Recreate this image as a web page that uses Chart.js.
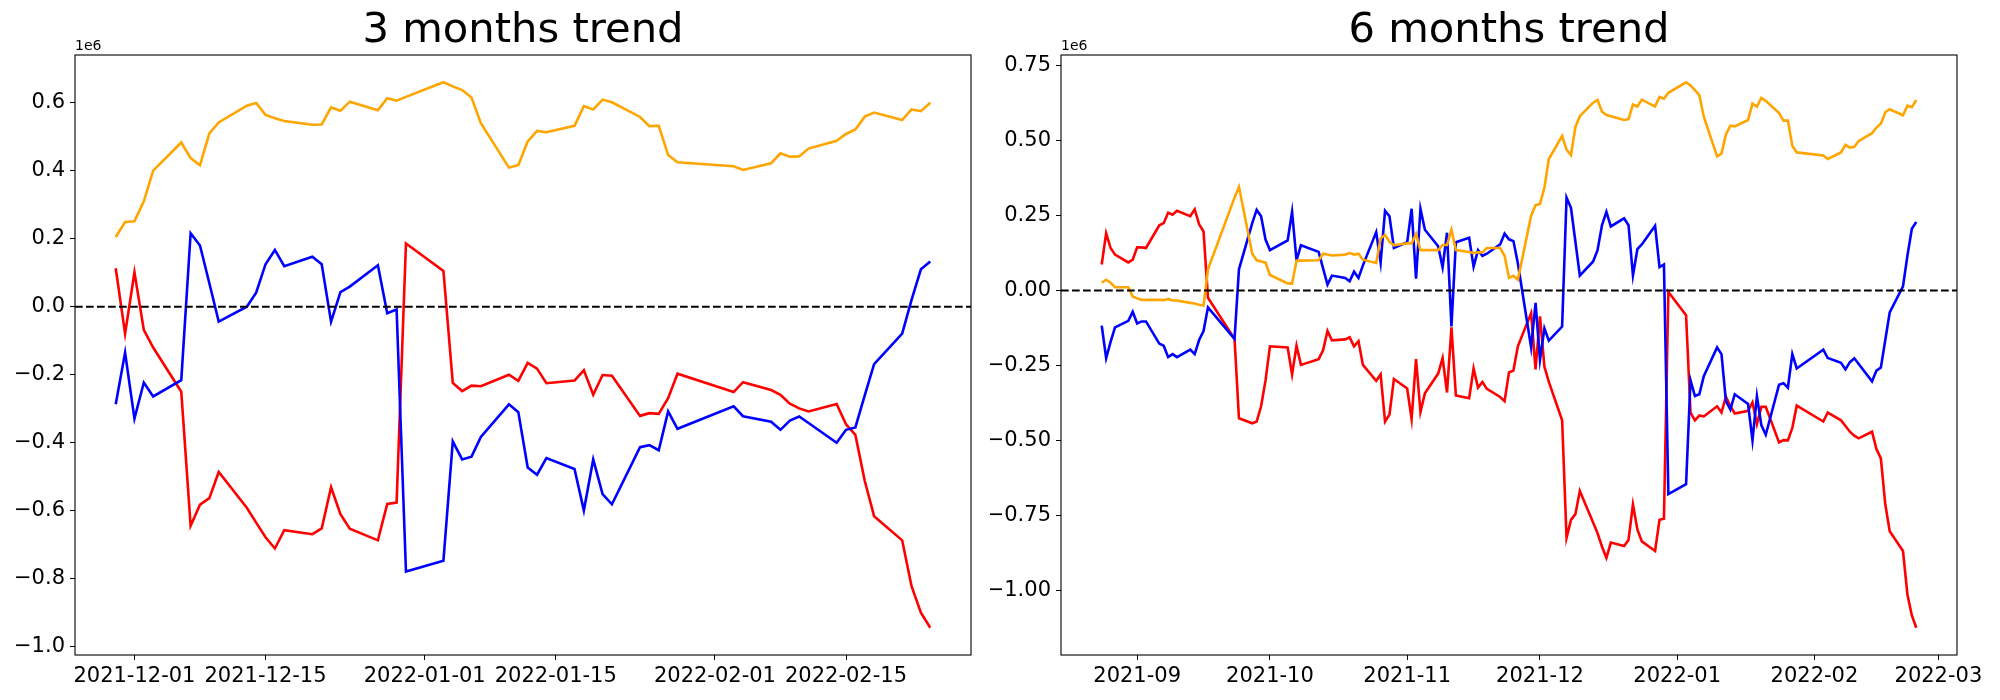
<!DOCTYPE html>
<html>
<head>
<meta charset="utf-8">
<script src="https://cdn.jsdelivr.net/npm/chart.js@4.4.1/dist/chart.umd.min.js"></script>
<style>
  html, body { margin: 0; padding: 0; background: #fff; overflow: hidden; }
  #wrap { position: relative; width: 2000px; height: 700px; }
  #wrap canvas { position: absolute; top: 0; }
</style>
</head>
<body>
<div id="wrap">
  <canvas id="trend3m" width="990" height="700" style="left:0"></canvas>
  <canvas id="trend6m" width="1010" height="700" style="left:990px"></canvas>
</div>
<script>
// values are in units of 1e6

// --- 3 months ---
const dates3m = [
  '2021-11-29','2021-11-30','2021-12-01','2021-12-02','2021-12-03',
  '2021-12-06','2021-12-07','2021-12-08','2021-12-09','2021-12-10',
  '2021-12-13','2021-12-14','2021-12-15','2021-12-16','2021-12-17',
  '2021-12-20','2021-12-21','2021-12-22','2021-12-23','2021-12-24',
  '2021-12-27','2021-12-28','2021-12-29','2021-12-30',
  '2022-01-03','2022-01-04','2022-01-05','2022-01-06','2022-01-07',
  '2022-01-10','2022-01-11','2022-01-12','2022-01-13','2022-01-14',
  '2022-01-17','2022-01-18','2022-01-19','2022-01-20','2022-01-21',
  '2022-01-24','2022-01-25','2022-01-26','2022-01-27','2022-01-28',
  '2022-02-03','2022-02-04',
  '2022-02-07','2022-02-08','2022-02-09','2022-02-10','2022-02-11',
  '2022-02-14','2022-02-15','2022-02-16','2022-02-17','2022-02-18',
  '2022-02-21','2022-02-22','2022-02-23','2022-02-24'
];
const orange3m = [
  0.205, 0.249, 0.251, 0.31, 0.40,
  0.483, 0.437, 0.416, 0.51, 0.542,
  0.591, 0.599, 0.564, 0.554, 0.546,
  0.535, 0.536, 0.586, 0.576, 0.603,
  0.578, 0.613, 0.606, 0.617,
  0.66, 0.648, 0.637, 0.615, 0.54,
  0.409, 0.416, 0.486, 0.517, 0.513,
  0.532, 0.59, 0.58, 0.609, 0.601,
  0.558, 0.531, 0.532, 0.446, 0.425,
  0.413, 0.402,
  0.422, 0.451, 0.441, 0.442, 0.465,
  0.488, 0.508, 0.521, 0.559, 0.571,
  0.549, 0.58, 0.575, 0.6
];
const blue3m = [
  -0.287, -0.135, -0.329, -0.223, -0.264,
  -0.216, 0.216, 0.18, 0.069, -0.044,
  0.0, 0.041, 0.125, 0.167, 0.119,
  0.147, 0.125, -0.044, 0.043, 0.059,
  0.122, -0.019, -0.008, -0.779,
  -0.747, -0.396, -0.449, -0.441, -0.383,
  -0.287, -0.31, -0.473, -0.494, -0.445,
  -0.477, -0.599, -0.449, -0.551, -0.581,
  -0.413, -0.407, -0.422, -0.308, -0.359,
  -0.293, -0.322,
  -0.338, -0.362, -0.335, -0.323, -0.342,
  -0.4, -0.362, -0.355, -0.261, -0.169,
  -0.079, 0.02, 0.11, 0.133
];
const red3m = [
  0.113, -0.079, 0.101, -0.068, -0.12,
  -0.25, -0.644, -0.582, -0.563, -0.486,
  -0.591, -0.635, -0.678, -0.711, -0.657,
  -0.669, -0.652, -0.531, -0.61, -0.653,
  -0.687, -0.58, -0.576, 0.186,
  0.105, -0.224, -0.248, -0.232, -0.234,
  -0.2, -0.218, -0.165, -0.182, -0.225,
  -0.217, -0.187, -0.259, -0.201, -0.203,
  -0.321, -0.313, -0.315, -0.269, -0.197,
  -0.251, -0.222,
  -0.245, -0.259, -0.285, -0.299, -0.308,
  -0.286, -0.346, -0.377, -0.512, -0.616,
  -0.687, -0.822, -0.9, -0.944
];
const xTicks3m = ['2021-12-01','2021-12-15','2022-01-01','2022-01-15','2022-02-01','2022-02-15'];
const yTicks3m = [-1.0, -0.8, -0.6, -0.4, -0.2, 0.0, 0.2, 0.4, 0.6];

// --- 6 months ---
const dates6m = [
  '2021-08-24','2021-08-25','2021-08-26','2021-08-27','2021-08-30','2021-08-31',
  '2021-09-01','2021-09-02','2021-09-03','2021-09-06','2021-09-07','2021-09-08','2021-09-09','2021-09-10',
  '2021-09-13','2021-09-14','2021-09-15','2021-09-16','2021-09-17','2021-09-23','2021-09-24',
  '2021-09-27','2021-09-28','2021-09-29','2021-09-30','2021-10-01',
  '2021-10-05','2021-10-06','2021-10-07','2021-10-08','2021-10-12','2021-10-13','2021-10-14','2021-10-15',
  '2021-10-18','2021-10-19','2021-10-20','2021-10-21','2021-10-22',
  '2021-10-25','2021-10-26','2021-10-27','2021-10-28','2021-10-29',
  '2021-11-01','2021-11-02','2021-11-03','2021-11-04','2021-11-05',
  '2021-11-08','2021-11-09','2021-11-10','2021-11-11','2021-11-12',
  '2021-11-15','2021-11-16','2021-11-17','2021-11-18','2021-11-19',
  '2021-11-22','2021-11-23','2021-11-24','2021-11-25','2021-11-26',
  '2021-11-29','2021-11-30','2021-12-01','2021-12-02','2021-12-03',
  '2021-12-06','2021-12-07','2021-12-08','2021-12-09','2021-12-10',
  '2021-12-13','2021-12-14','2021-12-15','2021-12-16','2021-12-17',
  '2021-12-20','2021-12-21','2021-12-22','2021-12-23','2021-12-24',
  '2021-12-27','2021-12-28','2021-12-29','2021-12-30',
  '2022-01-03','2022-01-04','2022-01-05','2022-01-06','2022-01-07',
  '2022-01-10','2022-01-11','2022-01-12','2022-01-13','2022-01-14',
  '2022-01-17','2022-01-18','2022-01-19','2022-01-20','2022-01-21',
  '2022-01-24','2022-01-25','2022-01-26','2022-01-27','2022-01-28',
  '2022-02-03','2022-02-04',
  '2022-02-07','2022-02-08','2022-02-09','2022-02-10','2022-02-11',
  '2022-02-14','2022-02-15','2022-02-16','2022-02-17','2022-02-18',
  '2022-02-21','2022-02-22','2022-02-23','2022-02-24'
];
const orange6m = [
  0.026, 0.036, 0.026, 0.011, 0.011, -0.02,
  -0.026, -0.031, -0.031, -0.031, -0.032, -0.028, -0.033, -0.033,
  -0.041, -0.043, -0.047, -0.05, 0.071, 0.31, 0.346,
  0.123, 0.101, 0.097, 0.093, 0.052,
  0.024, 0.023, 0.1, 0.1, 0.101, 0.123, 0.12, 0.117,
  0.12, 0.125, 0.12, 0.123, 0.103,
  0.092, 0.174, 0.186, 0.163, 0.151,
  0.158, 0.157, 0.189, 0.135, 0.135,
  0.135, 0.152, 0.152, 0.203, 0.135,
  0.129, 0.125, 0.128, 0.127, 0.142,
  0.142, 0.116, 0.042, 0.049, 0.036,
  0.25, 0.285, 0.289, 0.343, 0.439,
  0.516, 0.47, 0.452, 0.546, 0.582,
  0.627, 0.636, 0.597, 0.586, 0.582,
  0.569, 0.572, 0.621, 0.614, 0.637,
  0.614, 0.646, 0.64, 0.66,
  0.695, 0.684, 0.669, 0.652, 0.58,
  0.448, 0.457, 0.521, 0.55, 0.548,
  0.569, 0.624, 0.614, 0.643, 0.633,
  0.592, 0.567, 0.567, 0.483, 0.461,
  0.451, 0.439,
  0.461, 0.486, 0.477, 0.48, 0.499,
  0.525, 0.544, 0.557, 0.595, 0.605,
  0.585, 0.617, 0.612, 0.636
];
const blue6m = [
  -0.117, -0.226, -0.171, -0.123, -0.101, -0.071,
  -0.11, -0.103, -0.103, -0.177, -0.184, -0.222, -0.212, -0.222,
  -0.197, -0.212, -0.165, -0.135, -0.056, -0.161, 0.071,
  0.225, 0.269, 0.248, 0.17, 0.135,
  0.167, 0.263, 0.101, 0.151, 0.129, 0.074, 0.02, 0.05,
  0.042, 0.031, 0.063, 0.042, 0.084,
  0.195, 0.093, 0.266, 0.248, 0.142,
  0.161, 0.273, 0.04, 0.273, 0.203,
  0.148, 0.078, 0.193, -0.12, 0.161,
  0.176, 0.08, 0.135, 0.116, 0.123,
  0.154, 0.19, 0.171, 0.165, 0.091,
  -0.19, -0.041, -0.231, -0.126, -0.167,
  -0.12, 0.31, 0.276, 0.163, 0.05,
  0.097, 0.135, 0.218, 0.263, 0.214,
  0.241, 0.218, 0.05, 0.138, 0.154,
  0.216, 0.078, 0.087, -0.679,
  -0.646, -0.299, -0.352, -0.346, -0.286,
  -0.19, -0.212, -0.369, -0.397, -0.346,
  -0.378, -0.5, -0.352, -0.449, -0.481,
  -0.314, -0.309, -0.324, -0.212, -0.26,
  -0.197, -0.225,
  -0.241, -0.263, -0.239, -0.226, -0.245,
  -0.303, -0.267, -0.257, -0.165, -0.073,
  0.014, 0.116, 0.206, 0.229
];
const red6m = [
  0.087, 0.191, 0.142, 0.12, 0.094, 0.103,
  0.144, 0.144, 0.142, 0.218, 0.225, 0.26, 0.253, 0.266,
  0.248, 0.271, 0.221, 0.197, -0.024, -0.161, -0.426,
  -0.443, -0.437, -0.386, -0.3, -0.186,
  -0.19, -0.28, -0.184, -0.248, -0.229, -0.199, -0.135, -0.166,
  -0.163, -0.156, -0.186, -0.169, -0.248,
  -0.301, -0.28, -0.437, -0.414, -0.295,
  -0.327, -0.429, -0.229, -0.405, -0.343,
  -0.277, -0.225, -0.34, -0.123, -0.35,
  -0.359, -0.26, -0.324, -0.305, -0.328,
  -0.355, -0.369, -0.273, -0.267, -0.186,
  -0.075, -0.263, -0.086, -0.254, -0.305,
  -0.433, -0.825, -0.765, -0.746, -0.669,
  -0.774, -0.81, -0.854, -0.892, -0.841,
  -0.852, -0.832, -0.714, -0.797, -0.837,
  -0.869, -0.765, -0.761, -0.005,
  -0.082, -0.407, -0.433, -0.417, -0.42,
  -0.386, -0.407, -0.354, -0.386, -0.41,
  -0.401, -0.373, -0.446, -0.388, -0.388,
  -0.507, -0.499, -0.5, -0.458, -0.384,
  -0.437, -0.407,
  -0.433, -0.452, -0.471, -0.484, -0.493,
  -0.471, -0.529, -0.56, -0.713, -0.803,
  -0.869, -1.014, -1.084, -1.125
];
const xTicks6m = ['2021-09-01','2021-10-01','2021-11-01','2021-12-01','2022-01-01','2022-02-01','2022-03-01'];
const yTicks6m = [-1.0, -0.75, -0.5, -0.25, 0.0, 0.25, 0.5, 0.75];

const FONT = "'DejaVu Sans', 'Liberation Sans', sans-serif";

function toDay(s) {
  const p = s.split('-');
  return Date.UTC(+p[0], +p[1] - 1, +p[2]) / 86400000;
}

function dayLabel(v, len) {
  return new Date(Math.round(v) * 86400000).toISOString().slice(0, len);
}

function numLabel(v, dec) {
  const s = Math.abs(v).toFixed(dec);
  return (v < -1e-9 ? '\u2212' : '') + s;
}

// axes frame, zero line and the "1e6" offset text
const framePlugin = {
  id: 'frame',
  afterDatasetsDraw(chart) {
    const ctx = chart.ctx;
    const a = chart.chartArea;
    const y0 = chart.scales.y.getPixelForValue(0);
    ctx.save();
    ctx.strokeStyle = '#000';
    ctx.lineWidth = 2.1;
    ctx.setLineDash([7.7, 3.3]);
    ctx.beginPath();
    ctx.moveTo(a.left, y0);
    ctx.lineTo(a.right, y0);
    ctx.stroke();
    ctx.setLineDash([]);
    ctx.lineWidth = 1.1;
    ctx.strokeRect(a.left, a.top, a.right - a.left, a.bottom - a.top);
    ctx.fillStyle = '#000';
    ctx.font = '14px ' + FONT;
    ctx.textAlign = 'left';
    ctx.textBaseline = 'alphabetic';
    ctx.fillText('1e6', a.left, a.top - 5);
    ctx.restore();
  }
};

function makeChart(id, opts) {
  const xs = opts.dates.map(toDay);
  const x0 = xs[0], x1 = xs[xs.length - 1];
  const xPad = (x1 - x0) * 0.05;
  const all = opts.orange.concat(opts.blue, opts.red);
  const lo = Math.min(...all), hi = Math.max(...all);
  const yPad = (hi - lo) * 0.05;

  const series = (vals) => vals.map((v, i) => ({ x: xs[i], y: v }));
  const line = (vals, color) => ({
    data: series(vals),
    borderColor: color,
    backgroundColor: color,
    borderWidth: 2.6,
    pointRadius: 0,
    tension: 0,
    fill: false
  });

  const tickFont = { family: FONT, size: 21 };

  return new Chart(document.getElementById(id), {
    type: 'line',
    data: {
      datasets: [
        line(opts.orange, '#ffa500'),
        line(opts.blue, '#0000ff'),
        line(opts.red, '#ff0000')
      ]
    },
    options: {
      responsive: false,
      animation: false,
      layout: { padding: { left: 0, right: opts.padRight, top: 0, bottom: 0 } },
      plugins: {
        legend: { display: false },
        tooltip: { enabled: false },
        title: {
          display: true,
          text: opts.title,
          fullSize: false,
          color: '#000',
          font: { family: FONT, size: 41.7, weight: 'normal', lineHeight: 1 },
          padding: { top: 10, bottom: 3.3 }
        }
      },
      scales: {
        x: {
          type: 'linear',
          min: x0 - xPad,
          max: x1 + xPad,
          afterFit: (s) => { s.height = 45; },
          afterBuildTicks: (s) => { s.ticks = opts.xTicks.map(d => ({ value: toDay(d) })); },
          grid: { display: true, drawOnChartArea: false, drawTicks: true, tickLength: 5, color: '#000' },
          border: { display: false },
          ticks: {
            color: '#000', font: tickFont, padding: 4,
            autoSkip: false, maxRotation: 0, minRotation: 0,
            callback: (v) => dayLabel(v, opts.xLabelLen)
          }
        },
        y: {
          type: 'linear',
          min: lo - yPad,
          max: hi + yPad,
          afterFit: (s) => { s.width = opts.yWidth; },
          afterBuildTicks: (s) => { s.ticks = opts.yTicks.map(v => ({ value: v })); },
          grid: { display: true, drawOnChartArea: false, drawTicks: true, tickLength: 5, color: '#000' },
          border: { display: false },
          ticks: {
            color: '#000', font: tickFont, padding: 5,
            callback: (v) => numLabel(v, opts.yDec)
          }
        }
      }
    },
    plugins: [framePlugin]
  });
}

makeChart('trend3m', {
  title: '3 months trend',
  dates: dates3m, orange: orange3m, blue: blue3m, red: red3m,
  xTicks: xTicks3m, yTicks: yTicks3m,
  xLabelLen: 10, yDec: 1,
  yWidth: 75, padRight: 19
});

makeChart('trend6m', {
  title: '6 months trend',
  dates: dates6m, orange: orange6m, blue: blue6m, red: red6m,
  xTicks: xTicks6m, yTicks: yTicks6m,
  xLabelLen: 7, yDec: 2,
  yWidth: 71, padRight: 43
});
</script>
</body>
</html>
